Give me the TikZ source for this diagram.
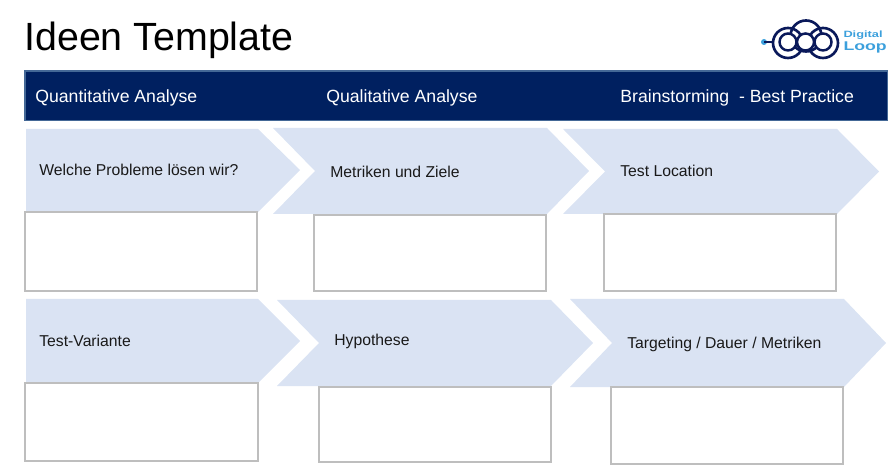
\documentclass[tikz,border=0pt]{standalone}
\usepackage{fontspec}
\setmainfont{Liberation Sans}
\usetikzlibrary{positioning}
\definecolor{BannerBlue}{RGB}{0, 32, 96}
\definecolor{BannerEdge}{RGB}{68, 104, 150}
\definecolor{ChevronBlue}{RGB}{218, 227, 243}
\definecolor{BoxGray}{RGB}{190, 190, 190}
\definecolor{LogoNavy}{RGB}{10, 25, 90}
\definecolor{LogoCyan}{RGB}{60, 160, 220}
\tikzset{
  label text/.style={font=\fontsize{8.95pt}{11pt}\selectfont, anchor=west, inner sep=0pt, text=black!90},
  head text/.style={font=\fontsize{10.05pt}{12pt}\selectfont, anchor=west, inner sep=0pt, text=white},
  answer box/.style={draw=BoxGray, line width=0.6pt, fill=white},
  logo text/.style={text=LogoCyan, anchor=west, inner sep=0pt, transform shape, xscale=1.4},
}

\begin{document}
\begin{tikzpicture}[x=0.02cm, y=-0.02cm]
    \useasboundingbox (0,0) rectangle (888,465);
    \node[font=\fontsize{22.4pt}{27pt}\selectfont, anchor=west, inner sep=0pt] (title) at (24,40) {Ideen Template};

    % banner
    \draw[fill=BannerBlue, draw=BannerEdge, line width=0.7pt] (25,71) rectangle (888,120.5);
    \node[head text] (headA) at (35,97.5) {Quantitative Analyse};
    \node[head text] (headB) at (326,97.5) {Qualitative Analyse};
    \node[head text] (headC) at (620,97.5) {Brainstorming\ \ - Best Practice};

    % first column of each row starts flat
    \foreach \top/\bot/\mid in {129/212/170, 299/383/341} {
      \fill[ChevronBlue] (26,\top) -- (258,\top) -- (300,\mid) -- (258,\bot) -- (26,\bot) -- cycle;
    }
    % left/top/bottom/mid of the notched shapes
    \foreach \x/\top/\bot/\mid in {273/128/214/171, 563/129/214/171.5, 277/300/386/343, 570/299/387/343} {
      \fill[ChevronBlue] (\x,\top) -- (\x+274,\top) -- (\x+316,\mid) -- (\x+274,\bot) -- (\x,\bot) -- (\x+42,\mid) -- cycle;
    }

    % answer boxes
    \foreach \a/\b/\c/\d in {25/212/257/291, 314/215/546/291, 604/214/836/291, 25/383/258/461, 319/387/551/462, 611/387/843/464} {
      \draw[answer box] (\a,\b) rectangle (\c,\d);
    }

    \node[label text] (probleme) at (39,170) {Welche Probleme lösen wir?};
    \node[label text] (metriken) at (330,171.5) {Metriken und Ziele};
    \node[label text] (location) at (620,170.5) {Test Location};
    \node[label text] (variante) at (39,340.5) {Test-Variante};
    \node[label text] (hypothese) at (334,341.5) {Hypothese};
    \node[label text] (targeting) at (627,344) {Targeting / Dauer / Metriken};

    % logo
    \fill[LogoCyan] (764,42) circle (3);
    \draw[LogoNavy, line width=1.1pt] (764,42) -- (774,42);
    \foreach \x/\y/\r in {806/36/15.5, 788/43/15, 823/43/15} {
      \draw[LogoNavy, line width=1.5pt] (\x,\y) circle (\r);
    }
    \foreach \x in {788, 805.5, 823} {
      \draw[LogoNavy, line width=1.4pt, fill=white] (\x,42) circle (8.5);
    }
    \node[logo text, font=\bfseries\fontsize{5.2pt}{6pt}\selectfont] (digital) at (843,35) {Digital};
    \node[logo text, font=\bfseries\fontsize{7.2pt}{8pt}\selectfont] (loop) at (843,47.5) {Loop};
  \end{tikzpicture}
\end{document}
